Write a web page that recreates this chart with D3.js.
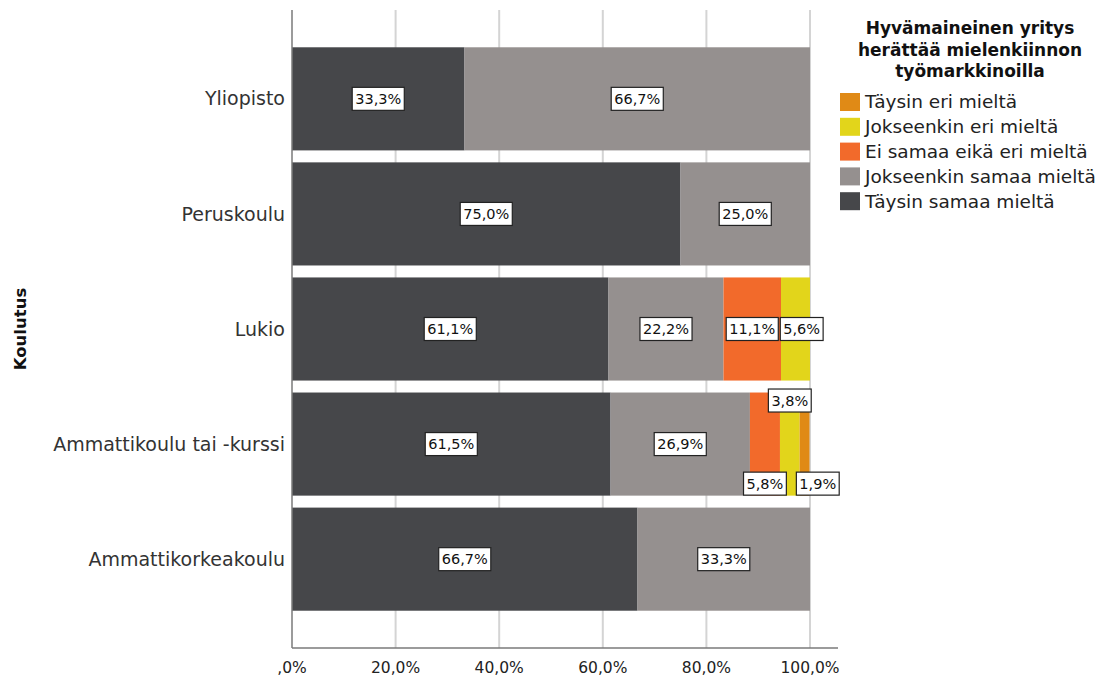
<!DOCTYPE html>
<html>
<head>
<meta charset="utf-8">
<script src="https://cdn.jsdelivr.net/npm/d3@7"></script>
<style>
  html, body { margin: 0; padding: 0; background: #fff; }
  svg { display: block; font-family: "DejaVu Sans", sans-serif; }
</style>
</head>
<body>
<svg id="chart" width="1109" height="681"></svg>
<script>
// Koulutus (education level) categories, top to bottom
const categories = ["Yliopisto", "Peruskoulu", "Lukio", "Ammattikoulu tai -kurssi", "Ammattikorkeakoulu"];

// Response series, in stacking order from left to right
const seriesNames = [
  "Täysin samaa mieltä",
  "Jokseenkin samaa mieltä",
  "Ei samaa eikä eri mieltä",
  "Jokseenkin eri mieltä",
  "Täysin eri mieltä"
];

// Percentages per category (same order as categories)
const taysinSamaa     = [33.3, 75.0, 61.1, 61.5, 66.7];
const jokseenkinSamaa = [66.7, 25.0, 22.2, 26.9, 33.3];
const eiSamaaEikaEri  = [0, 0, 11.1, 5.8, 0];
const jokseenkinEri   = [0, 0, 5.6, 3.8, 0];
const taysinEri       = [0, 0, 0, 1.9, 0];

const seriesColors = ["#46474a", "#95908f", "#f26a2b", "#e2d51b", "#e08a16"];

const xTickValues = [0, 20, 40, 60, 80, 100];
const xTickLabels = [",0%", "20,0%", "40,0%", "60,0%", "80,0%", "100,0%"];

const legendTitle = ["Hyvämaineinen yritys", "herättää mielenkiinnon", "työmarkkinoilla"];
const yTitle = "Koulutus";

// Build a row table for d3.stack
const seriesValues = [taysinSamaa, jokseenkinSamaa, eiSamaaEikaEri, jokseenkinEri, taysinEri];
const rows = categories.map((c, i) => {
  const r = { category: c };
  seriesNames.forEach((s, j) => { r[s] = seriesValues[j][i]; });
  return r;
});
const stacked = d3.stack().keys(seriesNames)(rows);

const svg = d3.select("#chart");
const plot = { left: 292, right: 810, top: 10, bottom: 648 };

const x = d3.scaleLinear().domain([0, 100]).range([plot.left, plot.right]);
const y = d3.scaleBand().domain(categories).range([plot.top, plot.bottom])
  .paddingInner(0.104).paddingOuter(0.324);
const color = d3.scaleOrdinal().domain(seriesNames).range(seriesColors);

// Vertical gridlines
svg.append("g").selectAll("line").data(xTickValues.slice(1)).join("line")
  .attr("x1", d => x(d)).attr("x2", d => x(d))
  .attr("y1", plot.top).attr("y2", plot.bottom)
  .attr("stroke", "#d4d4d4").attr("stroke-width", 2);

// Stacked bars
const segs = [];
stacked.forEach((layer, j) => {
  layer.forEach((d, i) => {
    const v = d[1] - d[0];
    if (v > 0) segs.push({ key: layer.key, j, i, cat: categories[i], x0: d[0], x1: d[1], v });
  });
});
svg.append("g").selectAll("rect").data(segs).join("rect")
  .attr("x", d => x(d.x0))
  .attr("y", d => y(d.cat))
  .attr("width", d => x(d.x1) - x(d.x0))
  .attr("height", y.bandwidth())
  .attr("fill", d => color(d.key));

// Axes lines
svg.append("line")
  .attr("x1", plot.left).attr("x2", plot.left)
  .attr("y1", plot.top).attr("y2", plot.bottom)
  .attr("stroke", "#7a7a7a").attr("stroke-width", 1.5);
svg.append("line")
  .attr("x1", plot.left).attr("x2", 838)
  .attr("y1", plot.bottom).attr("y2", plot.bottom)
  .attr("stroke", "#7a7a7a").attr("stroke-width", 1.5);

// X tick labels
svg.append("g").selectAll("text").data(xTickValues).join("text")
  .attr("x", d => x(d)).attr("y", 673)
  .attr("text-anchor", "middle")
  .attr("font-size", 15.5).attr("fill", "#222")
  .text((d, i) => xTickLabels[i]);

// Category labels
svg.append("g").selectAll("text").data(categories).join("text")
  .attr("x", plot.left - 7)
  .attr("y", d => y(d) + y.bandwidth() / 2)
  .attr("dy", "0.35em")
  .attr("text-anchor", "end")
  .attr("font-size", 19).attr("fill", "#333")
  .text(d => d);

// Y title
svg.append("text")
  .attr("transform", `translate(26,${(plot.top + plot.bottom) / 2}) rotate(-90)`)
  .attr("text-anchor", "middle")
  .attr("font-size", 16.5).attr("font-weight", "bold").attr("fill", "#111")
  .text(yTitle);

// Value labels: white boxes; narrow segments are moved above/below the bar
const fmt = v => d3.format(".1f")(v).replace(".", ",") + "%";
const labelLayer = svg.append("g");
const boxH = 23;
categories.forEach((cat, i) => {
  const rowSegs = segs.filter(s => s.i === i).sort((a, b) => a.x0 - b.x0);
  const built = rowSegs.map(s => {
    const g = labelLayer.append("g");
    const t = g.append("text").attr("font-size", 14.5).attr("fill", "#111")
      .attr("text-anchor", "middle").attr("dy", "0.36em").text(fmt(s.v));
    const w = t.node().getComputedTextLength() + 6;
    return { s, g, t, w, narrow: (x(s.x1) - x(s.x0)) < w };
  });
  const narrowCount = built.filter(b => b.narrow).length;
  let alt = 0;
  const y0 = y(cat), y1 = y(cat) + y.bandwidth();
  built.forEach(b => {
    b.cx = (x(b.s.x0) + x(b.s.x1)) / 2;
    b.level = "mid";
    if (b.narrow && narrowCount > 1) {
      b.level = (alt % 2 === 0) ? "low" : "high";
      alt++;
    }
    b.cy = b.level === "mid" ? (y0 + y1) / 2 : b.level === "low" ? y1 - 12 : y0 + 8;
  });
  // push overlapping labels on the same level to the right
  built.forEach((b, k) => {
    for (let m = k - 1; m >= 0; m--) {
      const p = built[m];
      if (p.level !== b.level) continue;
      const pr = p.cx + p.w / 2;
      const gap = b.level === "mid" ? 2 : 10;
      if (b.cx - b.w / 2 < pr) b.cx = pr + gap + b.w / 2;
      break;
    }
  });
  built.forEach(b => {
    b.g.attr("transform", `translate(${b.cx},${b.cy})`);
    b.g.insert("rect", "text")
      .attr("x", -b.w / 2).attr("y", -boxH / 2)
      .attr("width", b.w).attr("height", boxH)
      .attr("fill", "#fff").attr("stroke", "#222").attr("stroke-width", 1.2);
  });
});

// Legend
const legend = svg.append("g");
legend.selectAll("text.title").data(legendTitle).join("text")
  .attr("class", "title")
  .attr("x", 970).attr("y", (d, i) => 34 + i * 21.5)
  .attr("text-anchor", "middle")
  .attr("font-size", 17).attr("font-weight", "bold").attr("fill", "#111")
  .text(d => d);
const legendOrder = seriesNames.slice().reverse();
const items = legend.selectAll("g.item").data(legendOrder).join("g")
  .attr("class", "item")
  .attr("transform", (d, i) => `translate(840,${102 + i * 24.8})`);
items.append("rect")
  .attr("x", 0).attr("y", -9).attr("width", 20).attr("height", 18)
  .attr("fill", d => color(d));
items.append("text")
  .attr("x", 25).attr("dy", "0.35em")
  .attr("font-size", 18.5).attr("fill", "#222")
  .text(d => d);
</script>
</body>
</html>
